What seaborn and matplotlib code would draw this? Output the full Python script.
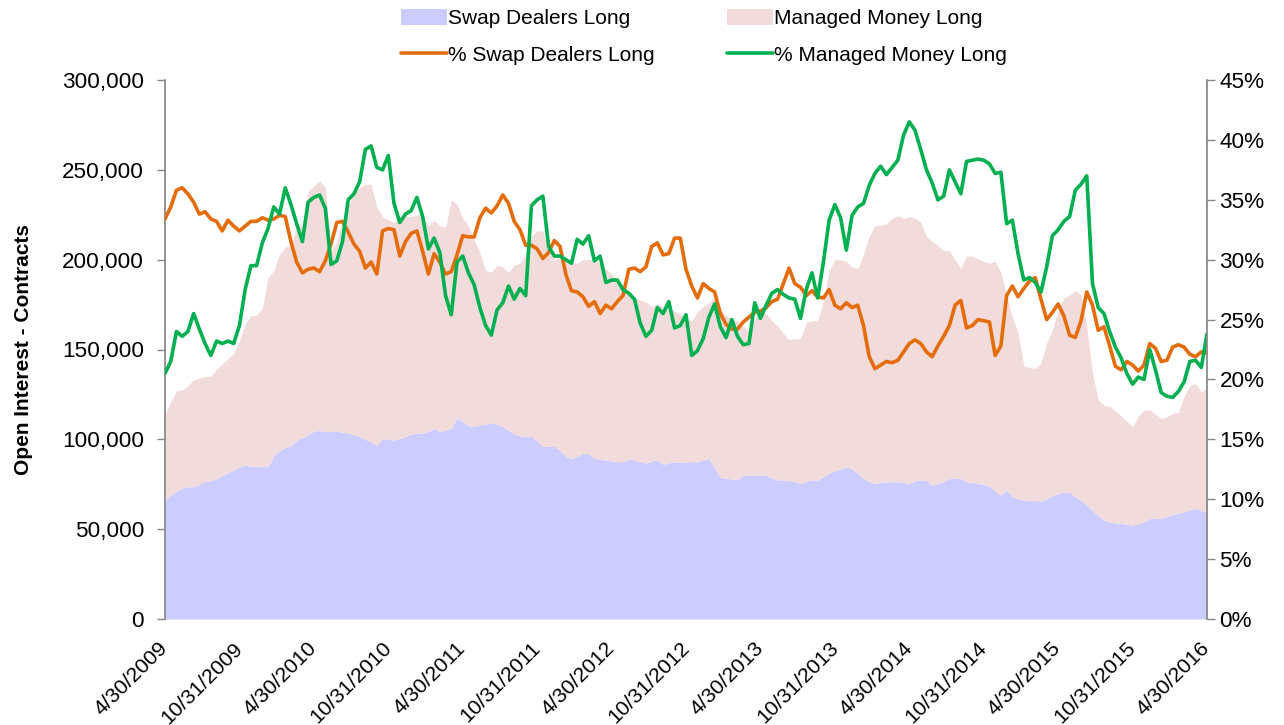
import numpy as np
import pandas as pd
import matplotlib
matplotlib.use("Agg")
import matplotlib.pyplot as plt
import seaborn as sns
from matplotlib.patches import Patch
from matplotlib.lines import Line2D
from matplotlib.ticker import FuncFormatter, MultipleLocator

# ---------------- data (~bi-weekly) ----------------
dates = pd.date_range("2009-04-30", "2016-04-30", periods=183)

# Swap Dealers Long (thousand contracts)
swap_long_k = [
    66, 69, 71, 73, 73.6, 73.6, 75, 76.5, 77, 78, 80, 81.5, 83, 84.5, 85.7, 85, 84.8, 84.8, 84.8, 91,
    93.5, 95.5, 96.5, 99.5, 101, 102.5, 104.5, 105, 104.3, 104.3,
    104.5, 104, 103.5, 102.5, 101.5, 100, 98.5, 96.5, 100.5, 100, 99.6, 100.5, 101.5, 103, 103.3, 103.3,
    104.5, 106, 104.5, 105, 106, 112, 110, 107.5, 107, 108, 108.5, 109, 108.5, 107, 105, 103,
    102, 101.5, 101.5, 99, 96, 96, 96, 94, 90.5, 89.4, 90.5, 92.2, 92.2, 89.4, 89, 88.5, 88, 87.6, 87.6, 89,
    88.5, 87.5, 86.7, 88, 88.5, 86, 87, 87.6, 87.2, 87.4, 87.6,
    87.6, 88.5, 89.4, 84, 79, 78.3, 78, 77.4, 80, 80.1, 80.1, 80.1, 80.1, 78.5, 77.4, 77.4, 77, 76.4, 75.5, 76.5,
    77.4, 77.4, 79, 81.1, 82.5, 83.5, 84.8, 83.5, 81, 78,
    76.5, 75.5, 76, 76.4, 76.4, 76.4, 76, 75.5, 77, 77.4, 77, 74.6, 75.5, 76.5, 78.3, 78.3, 78.3, 76.4, 76, 75.5,
    75, 74, 71, 69, 72, 68, 67, 66.2, 66.2, 66, 65.5,
    67, 68.5, 70, 70.8, 70.5, 68, 66, 63.5, 60.5, 57.5, 55, 54, 53.5, 53.3, 52.8, 52.3, 53, 54.2, 56, 56,
    56, 57, 58, 59, 59.7, 60.5, 61.6, 60.5, 59,
]

# Managed Money Long (thousand contracts)
mm_long_k = [
    48, 52, 56, 54.5, 56.4, 59.4, 59, 58.5, 58, 61, 62, 63.5, 65, 70.5, 78.3, 84, 84.2, 88.2, 105.2, 103,
    109.5, 111.5, 111.5, 118.5, 119, 135.5, 136.5, 139, 135.7, 100.7,
    105.5, 118, 126.5, 134.5, 138.5, 142, 143.5, 132.5, 123.5, 122, 121.4, 121.5, 122.5, 121, 121.7, 120.7,
    114.5, 116, 114.5, 113, 127, 119, 113, 111.5, 104, 96, 85.5, 84, 88.5, 89, 88, 94,
    96, 101.5, 111.5, 117, 120, 109, 104, 107, 108.5, 108.6, 107.5, 107.8, 107.8, 110.6, 109, 106.5, 104, 100.4,
    96.4, 92, 90.5, 90, 89.8, 86, 87, 88, 85.5, 83.9, 82.8, 79.6, 78.4,
    83.4, 85.5, 86.6, 95, 93, 90.7, 89, 88.6, 83, 79.9, 86.9, 91.9, 89.9, 87.5, 85.6, 81.6, 78.5, 79.6, 80.5,
    88.5, 88.6, 88.6, 98, 112.9, 117.5, 116.5, 114.2, 112.5, 114, 125,
    136.5, 143.5, 143, 143.6, 146.6, 148.1, 147, 148.5, 146, 143.6, 136, 135.4, 132.5, 128.5, 126.7, 121.7,
    116.7, 125.6, 126, 125, 124, 124, 128, 124, 108, 100, 92, 74.8, 73.8, 73.5, 77,
    86.6, 92.3, 102, 107.9, 109.8, 115, 114.3, 99.2, 76.3, 64.4, 64, 64.5, 62.5, 59.7, 57.2, 54.7, 60, 62.1,
    60.3, 58, 55.7, 55.5, 56.5, 56, 64.3, 69.5, 69.4, 66, 69.4,
]

# % Swap Dealers Long (percent of open interest)
pct_swap_long = [
    33.4, 34.4, 35.8, 36.0, 35.5, 34.8, 33.8, 34.0, 33.4, 33.2, 32.4, 33.3, 32.8, 32.4, 32.8, 33.2, 33.2, 33.5,
    33.3, 33.4, 33.7, 33.6, 31.5, 29.8, 28.9, 29.2, 29.3, 29.0, 29.9, 31.3,
    33.1, 33.2, 32.3, 31.3, 30.7, 29.3, 29.8, 28.8, 32.4, 32.6, 32.5, 30.3, 31.5, 32.2, 32.4, 30.7, 28.8, 30.5,
    29.8, 28.8, 29.0, 30.4, 32.0, 31.9, 31.9, 33.5, 34.3, 33.9, 34.5, 35.4, 34.7, 33.2,
    32.5, 31.2, 31.2, 30.9, 30.1, 30.6, 31.6, 31.1, 28.8, 27.4, 27.3, 26.9, 26.1, 26.5, 25.5, 26.2, 25.9, 26.5,
    27.0, 29.2, 29.3, 29.0, 29.4, 31.1, 31.4, 30.4, 30.5, 31.8, 31.8, 29.2, 27.8,
    26.8, 28.0, 27.6, 27.3, 25.5, 24.6, 24.2, 24.2, 24.8, 25.2, 25.6, 25.7, 26.0, 26.5, 26.7, 28.0, 29.3, 28.0,
    27.7, 27.0, 27.4, 26.9, 26.8, 27.5, 26.2, 25.9, 26.4, 26.0, 26.2, 24.5,
    21.9, 20.9, 21.2, 21.5, 21.4, 21.6, 22.3, 23.0, 23.3, 23.0, 22.3, 21.9, 22.8, 23.6, 24.5, 26.2, 26.6, 24.3,
    24.5, 25.0, 24.9, 24.8, 22.0, 22.8, 27.0, 27.8, 26.9, 27.6, 28.2, 28.5, 26.7,
    25.0, 25.6, 26.3, 25.3, 23.7, 23.5, 24.9, 27.3, 26.2, 24.1, 24.4, 22.8, 21.1, 20.8, 21.5, 21.2, 20.7, 21.2,
    23.0, 22.6, 21.5, 21.6, 22.7, 22.9, 22.7, 22.1, 21.9, 22.3, 22.2,
]

# % Managed Money Long (percent of open interest)
pct_mm_long = [
    20.5, 21.5, 24.0, 23.6, 24.0, 25.5, 24.2, 23.0, 22.0, 23.2, 23.0, 23.2, 23.0, 24.5, 27.5, 29.5, 29.5, 31.4,
    32.6, 34.4, 33.8, 36.0, 34.6, 33.0, 31.5, 34.8, 35.2, 35.4, 34.3, 29.6,
    29.9, 31.5, 35.0, 35.5, 36.5, 39.2, 39.5, 37.7, 37.5, 38.7, 34.7, 33.1, 33.8, 34.1, 35.2, 33.6, 30.9, 31.8,
    30.6, 27.0, 25.4, 29.8, 30.3, 28.9, 27.9, 26.0, 24.5, 23.7, 25.8, 26.4, 27.8, 26.7,
    27.6, 27.0, 34.5, 35.0, 35.3, 31.1, 30.3, 30.3, 30.0, 29.7, 31.7, 31.3, 32.0, 29.9, 30.3, 28.1, 28.3, 28.3,
    27.5, 27.2, 26.7, 24.7, 23.6, 24.1, 26.0, 25.5, 26.5, 24.3, 24.5, 25.4, 22.0,
    22.4, 23.4, 25.2, 26.3, 24.4, 23.5, 25.0, 23.6, 22.9, 23.0, 26.4, 25.1, 26.2, 27.2, 27.5, 27.1, 26.8, 26.7,
    25.1, 27.5, 28.9, 26.8, 29.8, 33.3, 34.6, 33.5, 30.8, 33.7, 34.4, 34.7,
    36.2, 37.2, 37.8, 37.1, 37.7, 38.3, 40.4, 41.5, 40.8, 39.2, 37.5, 36.4, 35.0, 35.3, 37.5, 36.5, 35.5, 38.2,
    38.3, 38.4, 38.3, 38.0, 37.2, 37.3, 33.0, 33.3, 30.5, 28.3, 28.5, 28.1, 27.3,
    29.4, 32.0, 32.5, 33.2, 33.6, 35.8, 36.3, 37.0, 28.0, 26.0, 25.5, 24.0, 22.7, 21.8, 20.5, 19.6, 20.2, 20.0,
    22.5, 20.8, 18.9, 18.6, 18.5, 19.0, 19.8, 21.5, 21.6, 21.0, 23.8,
]

tick_dates = ["2009-04-30", "2009-10-31", "2010-04-30", "2010-10-31", "2011-04-30", "2011-10-31",
              "2012-04-30", "2012-10-31", "2013-04-30", "2013-10-31", "2014-04-30", "2014-10-31",
              "2015-04-30", "2015-10-31", "2016-04-30"]
tick_labels = ["4/30/2009", "10/31/2009", "4/30/2010", "10/31/2010", "4/30/2011", "10/31/2011",
               "4/30/2012", "10/31/2012", "4/30/2013", "10/31/2013", "4/30/2014", "10/31/2014",
               "4/30/2015", "10/31/2015", "4/30/2016"]

series_names = ["Swap Dealers Long", "Managed Money Long", "% Swap Dealers Long", "% Managed Money Long"]

df = pd.DataFrame({
    "date": dates,
    "swap": np.array(swap_long_k) * 1000,
    "mm": np.array(mm_long_k) * 1000,
    "pct_swap": pct_swap_long,
    "pct_mm": pct_mm_long,
})

# ---------------- style ----------------
C_SWAP_AREA = "#CCCCFF"
C_MM_AREA = "#F2DCDB"
C_SWAP_LINE = "#E46C0A"
C_MM_LINE = "#00B050"
C_AXIS = "#868686"

sns.set_theme(style="white")
plt.rcParams["font.family"] = ["Liberation Sans", "DejaVu Sans"]
plt.rcParams["text.color"] = "black"
plt.rcParams["axes.labelcolor"] = "black"
plt.rcParams["xtick.color"] = "black"
plt.rcParams["ytick.color"] = "black"

W, H = 1284, 725
fig = plt.figure(figsize=(W / 100, H / 100), dpi=100)
L, R, T, B = 165, 1207, 80, 619
ax = fig.add_axes([L / W, 1 - B / H, (R - L) / W, (B - T) / H])

# stacked areas
ax.stackplot(df["date"], df["swap"], df["mm"], colors=[C_SWAP_AREA, C_MM_AREA], linewidth=0)
ax.set_ylim(0, 300000)
ax.yaxis.set_major_locator(MultipleLocator(50000))
ax.yaxis.set_major_formatter(FuncFormatter(lambda v, p: f"{int(v):,}"))
ax.set_xlim(pd.Timestamp("2009-04-30"), pd.Timestamp("2016-04-30"))

# percentage lines on secondary axis
ax2 = ax.twinx()
sns.lineplot(data=df, x="date", y="pct_swap", ax=ax2, color=C_SWAP_LINE, linewidth=2.6)
sns.lineplot(data=df, x="date", y="pct_mm", ax=ax2, color=C_MM_LINE, linewidth=2.6)
ax2.set_ylim(0, 45)
ax2.yaxis.set_major_locator(MultipleLocator(5))
ax2.yaxis.set_major_formatter(FuncFormatter(lambda v, p: f"{int(round(v))}%"))
ax2.set_xlim(pd.Timestamp("2009-04-30"), pd.Timestamp("2016-04-30"))
ax2.set_xlabel("")
ax2.set_ylabel("")

# axes cosmetics
for a in (ax, ax2):
    for s in a.spines.values():
        s.set_visible(False)
ax.spines["left"].set_visible(True)
ax.spines["left"].set_color(C_AXIS)
ax2.spines["right"].set_visible(True)
ax2.spines["right"].set_color(C_AXIS)

ax.tick_params(axis="y", left=True, direction="out", length=6, width=1, color=C_AXIS,
               labelsize=16.2, labelcolor="black", pad=9)
ax2.tick_params(axis="y", right=True, direction="out", length=6, width=1, color=C_AXIS,
                labelsize=16.2, labelcolor="black", pad=3)

ax.set_xticks(pd.to_datetime(tick_dates))
ax.set_xticklabels(tick_labels, rotation=45, ha="right", va="center", rotation_mode="anchor",
                   fontsize=15.3, color="black")
ax.tick_params(axis="x", bottom=False, pad=13)
ax2.tick_params(axis="x", bottom=False, labelbottom=False)

ax.set_xlabel("")
ax.set_ylabel("Open Interest - Contracts", fontsize=15, fontweight="bold", labelpad=21,
              color="black")

# legend
handles = [
    Patch(facecolor=C_SWAP_AREA, edgecolor="none"),
    Line2D([0], [0], color=C_SWAP_LINE, linewidth=2.6),
    Patch(facecolor=C_MM_AREA, edgecolor="none"),
    Line2D([0], [0], color=C_MM_LINE, linewidth=2.6),
]
labels = [series_names[0], series_names[2], series_names[1], series_names[3]]
leg = fig.legend(handles, labels, ncol=2, loc="center", bbox_to_anchor=(704 / W, 1 - 37 / H),
                 frameon=False, fontsize=15, handlelength=2.2, handleheight=0.8, handletextpad=0.05,
                 columnspacing=3.5, labelspacing=0.85)
for t in leg.get_texts():
    t.set_color("black")

fig.savefig("out.png", dpi=100)
